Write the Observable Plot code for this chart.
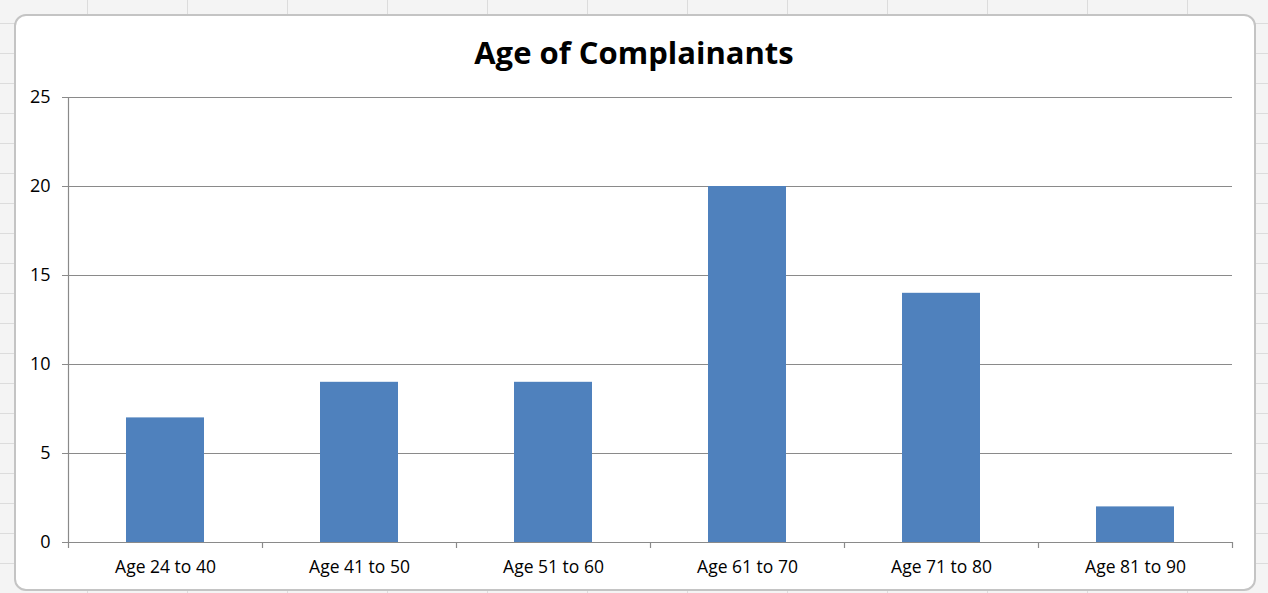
<!DOCTYPE html>
<html><head><meta charset="utf-8">
<script src="https://cdn.jsdelivr.net/npm/d3@7"></script>
<script src="https://cdn.jsdelivr.net/npm/@observablehq/plot@0.6"></script>
<style>
html,body{margin:0;padding:0;}
body{width:1268px;height:593px;overflow:hidden;background:#f4f4f4;
 background-image:
  repeating-linear-gradient(90deg, transparent 0 87px, #dcdcdc 87px 88px, transparent 88px 100px),
  repeating-linear-gradient(0deg, transparent 0 29px, #dcdcdc 29px 30px);}
#wrap{position:absolute;left:0;top:0;width:1268px;height:593px;}
#frame{position:absolute;left:14px;top:14px;width:1238px;height:573px;background:#fff;border:2px solid #c4c4c4;border-radius:12px;}
#title{position:absolute;left:0;top:31px;width:1268px;text-align:center;font:bold 31px "Open Sans", sans-serif;color:#000;}
#chart{position:absolute;left:0;top:0;}
</style></head>
<body>
<div id="wrap"><div id="frame"></div><div id="title">Age of Complainants</div><div id="chart"></div></div>
<script>
const categories = ["Age 24 to 40","Age 41 to 50","Age 51 to 60","Age 61 to 70","Age 71 to 80","Age 81 to 90"];
const counts = [7, 9, 9, 20, 14, 2];
const yTicks = [0, 5, 10, 15, 20, 25];

const data = categories.map((c, i) => ({category: c, count: counts[i]}));
const W = 1268, H = 593, mL = 68, mR = 36;
const step = (W - mL - mR) / categories.length;
const axisColor = "#8a8a8a";

const plot = Plot.plot({
  width: W, height: H,
  marginLeft: mL, marginRight: mR, marginTop: 97, marginBottom: 51,
  style: {background: "transparent", fontFamily: "'Open Sans', sans-serif", fontSize: "18px", color: "#000"},
  x: {domain: categories, paddingInner: 0.6, paddingOuter: 0.3, label: null},
  y: {domain: [0, 25], ticks: yTicks, label: null},
  marks: [
    Plot.ruleY(yTicks, {stroke: axisColor, strokeWidth: 1.2}),
    Plot.axisY({ticks: yTicks, tickSize: 6, tickPadding: 12, stroke: axisColor, fontSize: 18, label: null}),
    Plot.ruleX([categories[0]], {x: d => d, dx: -step/2, y1: 0, y2: 25, stroke: axisColor, strokeWidth: 1.2}),
    Plot.barY(data, {x: "category", y: "count", fill: "#4F81BD"}),
    Plot.ruleX(categories, {x: d => d, dx: -step/2, y1: 0, y2: 0, insetBottom: -6, stroke: axisColor, strokeWidth: 1.2}),
    Plot.ruleX([categories[categories.length-1]], {x: d => d, dx: step/2, y1: 0, y2: 0, insetBottom: -6, stroke: axisColor, strokeWidth: 1.2}),
    Plot.axisX({tickSize: 0, tickPadding: 18, fontSize: 17.5, label: null})
  ]
});
document.getElementById("chart").appendChild(plot);
</script>
</body></html>
